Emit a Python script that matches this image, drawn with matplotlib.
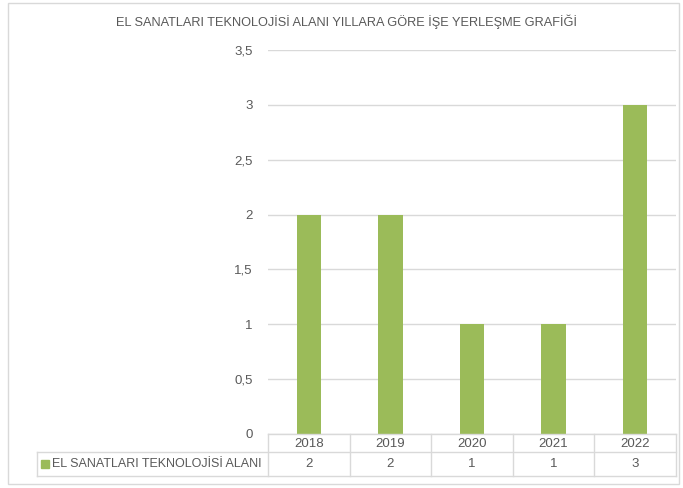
import matplotlib.pyplot as plt
from matplotlib.patches import Rectangle

years = ["2018", "2019", "2020", "2021", "2022"]
values = [2, 2, 1, 1, 3]
series_name = "EL SANATLARI TEKNOLOJİSİ ALANI"
title = "EL SANATLARI TEKNOLOJİSİ ALANI YILLARA GÖRE İŞE YERLEŞME GRAFİĞİ"
yticks = [0, 0.5, 1, 1.5, 2, 2.5, 3, 3.5]
ytick_labels = ["0", "0,5", "1", "1,5", "2", "2,5", "3", "3,5"]

green = "#9BBB59"
txt = "#595959"
grid = "#D9D9D9"

plt.rcParams['font.family'] = ['Liberation Sans', 'DejaVu Sans']

W, H = 683, 488
fig = plt.figure(figsize=(W / 100, H / 100), dpi=100)

def fx(px):
    return px / W

def fy(py):
    return 1 - py / H

# outer chart border
fig.patches.append(Rectangle((fx(8), fy(484)), fx(679) - fx(8), fy(3) - fy(484),
                             transform=fig.transFigure, fill=False, ec=grid, lw=1))

x0, x1, ytop, ybot = 268, 676, 50, 434
ax = fig.add_axes([fx(x0), fy(ybot), fx(x1) - fx(x0), fy(ytop) - fy(ybot)])
ax.bar(range(len(years)), values, width=0.3, color=green, zorder=3)
ax.set_xlim(-0.5, len(years) - 0.5)
ax.set_ylim(0, 3.5)
ax.set_yticks(yticks)
ax.set_yticklabels(ytick_labels, color=txt, fontsize=9.5)
ax.tick_params(axis='y', length=0, pad=11)
ax.set_xticks([])
ax.grid(axis='y', color=grid, lw=1, zorder=0)
for s in ax.spines.values():
    s.set_visible(False)

fig.text(fx(347), fy(22), title, ha='center', va='center', color=txt, fontsize=9.2)

# data table below the axis
col_w = (x1 - x0) / len(years)
r0, r1, r2 = 434, 452, 476
left = 37
kw = dict(color=grid, lw=1, transform=fig.transFigure, clip_on=False)
fig.add_artist(plt.Line2D([fx(x0), fx(x1)], [fy(r0), fy(r0)], **kw))
fig.add_artist(plt.Line2D([fx(left), fx(x1)], [fy(r1), fy(r1)], **kw))
fig.add_artist(plt.Line2D([fx(left), fx(x1)], [fy(r2), fy(r2)], **kw))
fig.add_artist(plt.Line2D([fx(left), fx(left)], [fy(r1), fy(r2)], **kw))
for i in range(len(years) + 1):
    xx = x0 + i * col_w
    fig.add_artist(plt.Line2D([fx(xx), fx(xx)], [fy(r0), fy(r2)], **kw))
for i, (yr, v) in enumerate(zip(years, values)):
    cx = x0 + (i + 0.5) * col_w
    fig.text(fx(cx), fy((r0 + r1) / 2 + 1), yr, ha='center', va='center', color=txt, fontsize=9.5)
    fig.text(fx(cx), fy((r1 + r2) / 2), str(v), ha='center', va='center', color=txt, fontsize=9.5)

fig.patches.append(Rectangle((fx(41), fy(468)), fx(8), fy(460) - fy(468),
                             transform=fig.transFigure, color=green))
fig.text(fx(52), fy((r1 + r2) / 2), series_name, ha='left', va='center', color=txt, fontsize=9)

fig.savefig("out.png", dpi=100)
